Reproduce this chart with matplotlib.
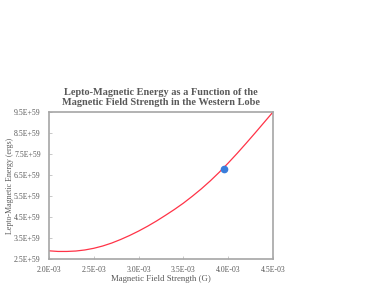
import matplotlib
matplotlib.use("Agg")
import matplotlib.pyplot as plt
from matplotlib.ticker import FuncFormatter

# Magnetic field strength (G) and lepto-magnetic energy (ergs)
field = [2.0e-3, 2.1e-3, 2.2e-3, 2.3e-3, 2.4e-3, 2.5e-3, 2.6e-3, 2.7e-3, 2.8e-3,
         2.9e-3, 3.0e-3, 3.1e-3, 3.2e-3, 3.3e-3, 3.4e-3, 3.5e-3, 3.6e-3, 3.7e-3,
         3.8e-3, 3.9e-3, 4.0e-3, 4.1e-3, 4.2e-3, 4.3e-3, 4.4e-3, 4.5e-3]
energy = [2.89e59, 2.86e59, 2.86e59, 2.88e59, 2.93e59, 3.01e59, 3.12e59, 3.26e59,
          3.43e59, 3.62e59, 3.83e59, 4.06e59, 4.31e59, 4.58e59, 4.86e59, 5.16e59,
          5.49e59, 5.84e59, 6.22e59, 6.63e59, 7.07e59, 7.53e59, 8.01e59, 8.50e59,
          9.00e59, 9.50e59]

# equipartition point
eq_field = [3.95e-3]
eq_energy = [6.8e59]

x_ticks = [2.0e-3, 2.5e-3, 3.0e-3, 3.5e-3, 4.0e-3, 4.5e-3]
y_ticks = [2.5e59, 3.5e59, 4.5e59, 5.5e59, 6.5e59, 7.5e59, 8.5e59, 9.5e59]

plt.rcParams['font.family'] = ['Liberation Serif', 'DejaVu Serif']

fig = plt.figure(figsize=(3.74, 2.89), dpi=100)
ax = fig.add_axes([49 / 374, 1 - 259 / 289, 224 / 374, 147 / 289])

ax.plot(field, energy, color='#ff3347', linewidth=0.9)
ax.plot(eq_field, eq_energy, 'o', color='#3a7ddb', markersize=4.5, zorder=3)

ax.set_xlim(2.0e-3, 4.5e-3)
ax.set_ylim(2.5e59, 9.5e59)
ax.set_xticks(x_ticks)
ax.set_yticks(y_ticks)
ax.xaxis.set_major_formatter(FuncFormatter(lambda v, p: "%.1E" % v))
ax.yaxis.set_major_formatter(FuncFormatter(lambda v, p: "%.1E" % v))

ax.tick_params(direction='in', length=2, width=0.6, color='#bfbfbf',
               labelsize=5.6, labelcolor='#595959')
ax.tick_params(axis='x', pad=5)
ax.tick_params(axis='y', pad=6)

for side in ['left', 'right', 'top', 'bottom']:
    ax.spines[side].set_color('#a6a6a6')
    ax.spines[side].set_linewidth(1.2)

ax.set_xlabel('Magnetic Field Strength (G)', fontsize=6.3, color='#595959', va='center')
ax.set_ylabel('Lepto-Magnetic Energy (ergs)', fontsize=5.7, color='#595959', va='center')
ax.xaxis.set_label_coords(0.5, -0.136)
ax.yaxis.set_label_coords(-0.174, 0.5)
ax.set_title('Lepto-Magnetic Energy as a Function of the\nMagnetic Field Strength in the Western Lobe',
             fontsize=7.4, fontweight='bold', color='#595959', linespacing=1.2, pad=5)

fig.savefig('out.png', dpi=100)
